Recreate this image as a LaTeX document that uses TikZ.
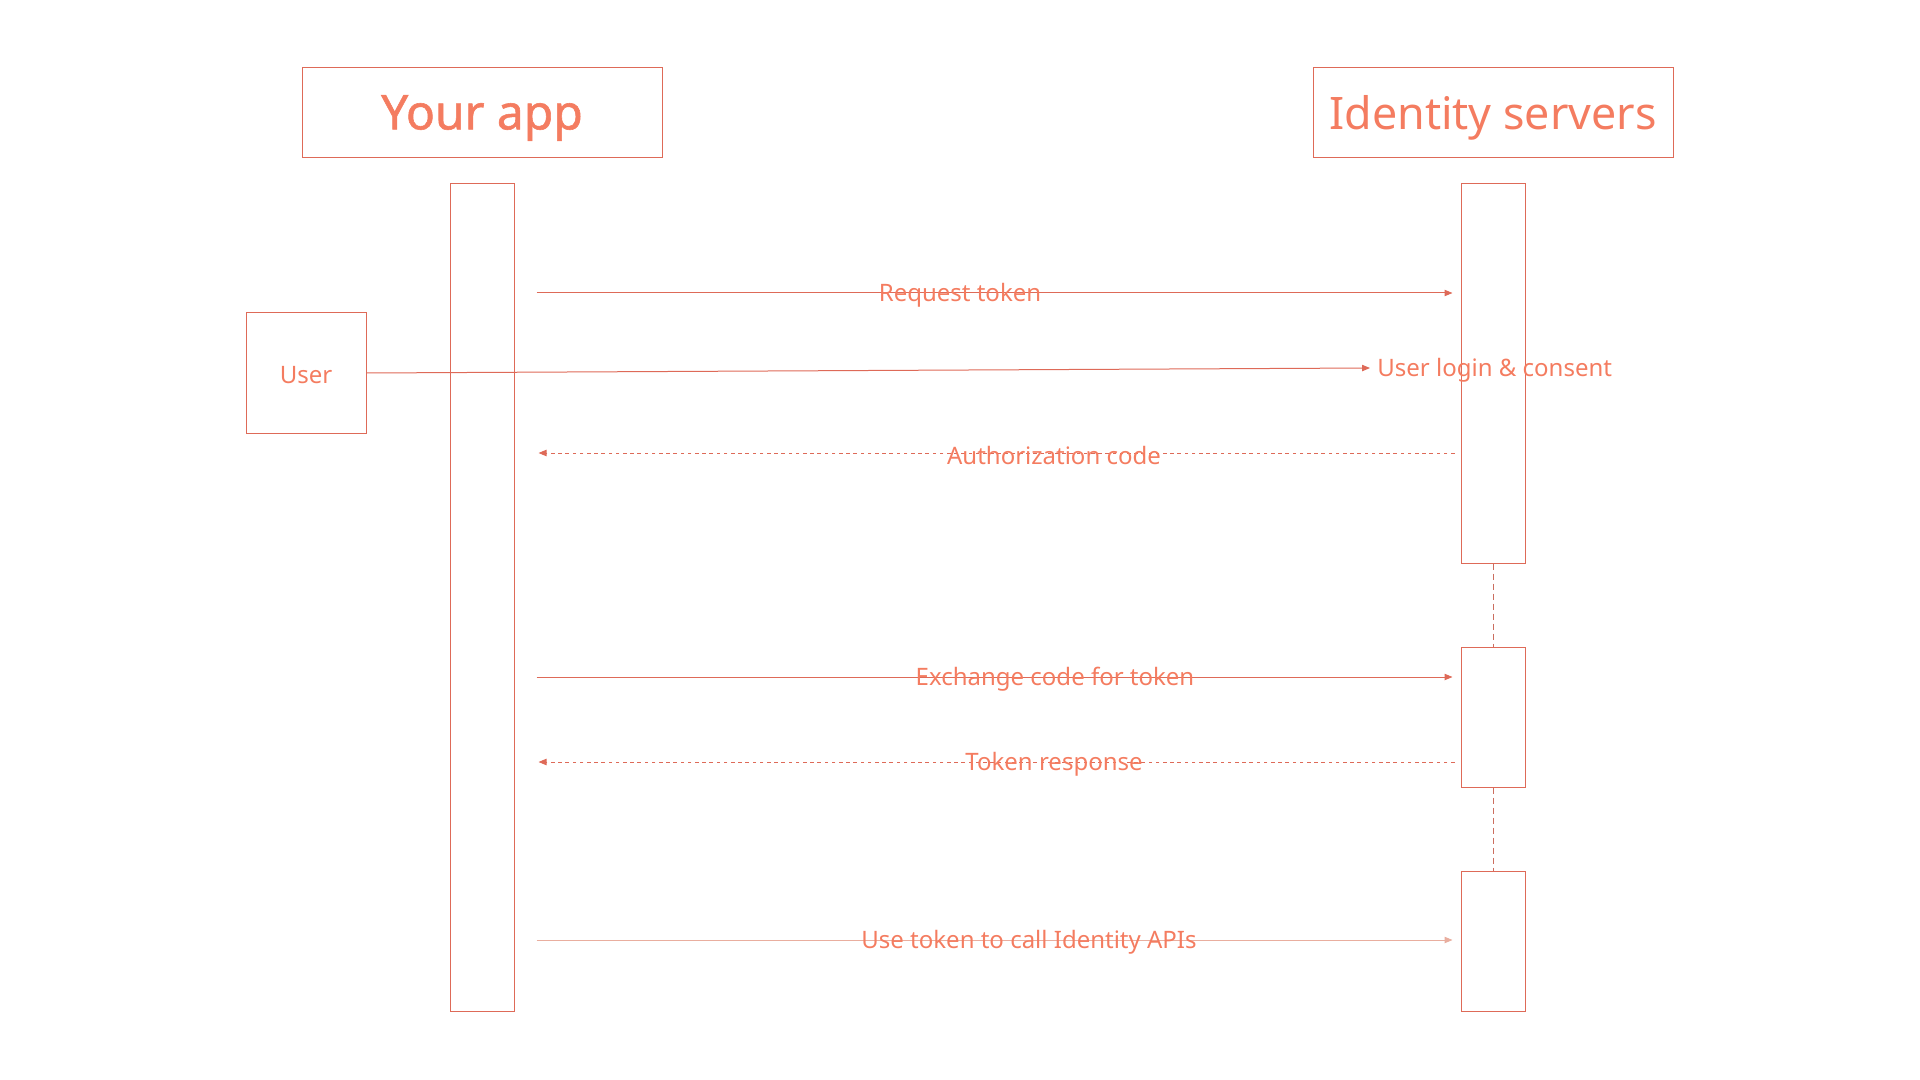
\documentclass[tikz,border=0pt]{standalone}
\usepackage{fontspec}
\setmainfont{Noto Sans}
\newfontfamily\headfont{Noto Sans}[BoldFont={*}, BoldFeatures={FakeBold=1.2}]
\usetikzlibrary{arrows.meta}
\definecolor{salmon}{HTML}{F47C60}
\definecolor{edge}{HTML}{DE6A58}
\definecolor{lightedge}{HTML}{E9AE9F}
\begin{document}
\begin{tikzpicture}[x=0.5pt, y=-0.5pt,
    box/.style={draw=edge, line width=0.5pt, inner sep=0pt},
    head/.style={text=salmon, inner sep=0pt, yshift=-2.5pt},
    lbl/.style={text=salmon, font=\fontsize{12}{14}\selectfont, inner sep=0pt, yshift=-1pt},
    msg/.style={draw=edge, line width=0.5pt, -{Triangle[length=4pt,width=3.2pt]}},
    reply/.style={msg, dash pattern=on 1.8pt off 1.8pt},
    idle/.style={draw=edge!80!gray, line width=0.5pt, dash pattern=on 3pt off 2pt}]
      \useasboundingbox (0, 0) rectangle (1920, 1080);
      % headers
      \node [box, minimum width=180pt, minimum height=45pt] (app) at (482, 113) {};
      \node [head, font=\headfont\bfseries\fontsize{24}{28}\selectfont] at (app) {Your app};
      \node [box, minimum width=180pt, minimum height=45pt] (ids) at (1493, 113) {};
      \node [head, font=\headfont\fontsize{22.4}{27}\selectfont] at (ids) {Identity servers};
      % lifelines
      \node [box, minimum width=32pt, minimum height=414pt] (applife) at (482, 597.5) {};
      \node [box, minimum width=32pt, minimum height=189.5pt] (idsA) at (1493, 373.5) {};
      \node [box, minimum width=32pt, minimum height=70pt] (idsB) at (1493, 717) {};
      \node [box, minimum width=32pt, minimum height=70pt] (idsC) at (1493, 941) {};
      \draw [idle] (idsA.south) -- (idsB.north);
      \draw [idle] (idsB.south) -- (idsC.north);
      % user
      \node [box, minimum width=60pt, minimum height=60pt] (user) at (306, 373) {};
      \node [lbl] at (user) {User};
      % messages
      \coordinate (m1) at (0, 293);
      \coordinate (m3) at (0, 453);
      \coordinate (m4) at (0, 677);
      \coordinate (m5) at (0, 762);
      \coordinate (m6) at (0, 940);
      \draw [msg, shorten <=11pt, shorten >=4pt] (applife.east |- m1) -- (idsA.west |- m1);
      \node [lbl] at (960, 293) {Request token};
      \node [lbl, anchor=west] (consent) at (1377, 368) {User login \& consent};
      \draw [msg] (user.east) -- ([xshift=-3.5pt, yshift=1pt]consent.west);
      \draw [reply, shorten <=3pt, shorten >=12pt] (idsA.west |- m3) -- (applife.east |- m3);
      \node [lbl] at (1054, 453) {Authorization code};
      \draw [msg, shorten <=11pt, shorten >=4pt] (applife.east |- m4) -- (idsB.west |- m4);
      \node [lbl] at (1055, 677) {Exchange code for token};
      \draw [reply, shorten <=3pt, shorten >=12pt] (idsB.west |- m5) -- (applife.east |- m5);
      \node [lbl] at (1054, 762) {Token response};
      \draw [msg, draw=lightedge, shorten <=11pt, shorten >=4pt] (applife.east |- m6) -- (idsC.west |- m6);
      \node [lbl] at (1029, 940) {Use token to call Identity APIs};
    \end{tikzpicture}
\end{document}
